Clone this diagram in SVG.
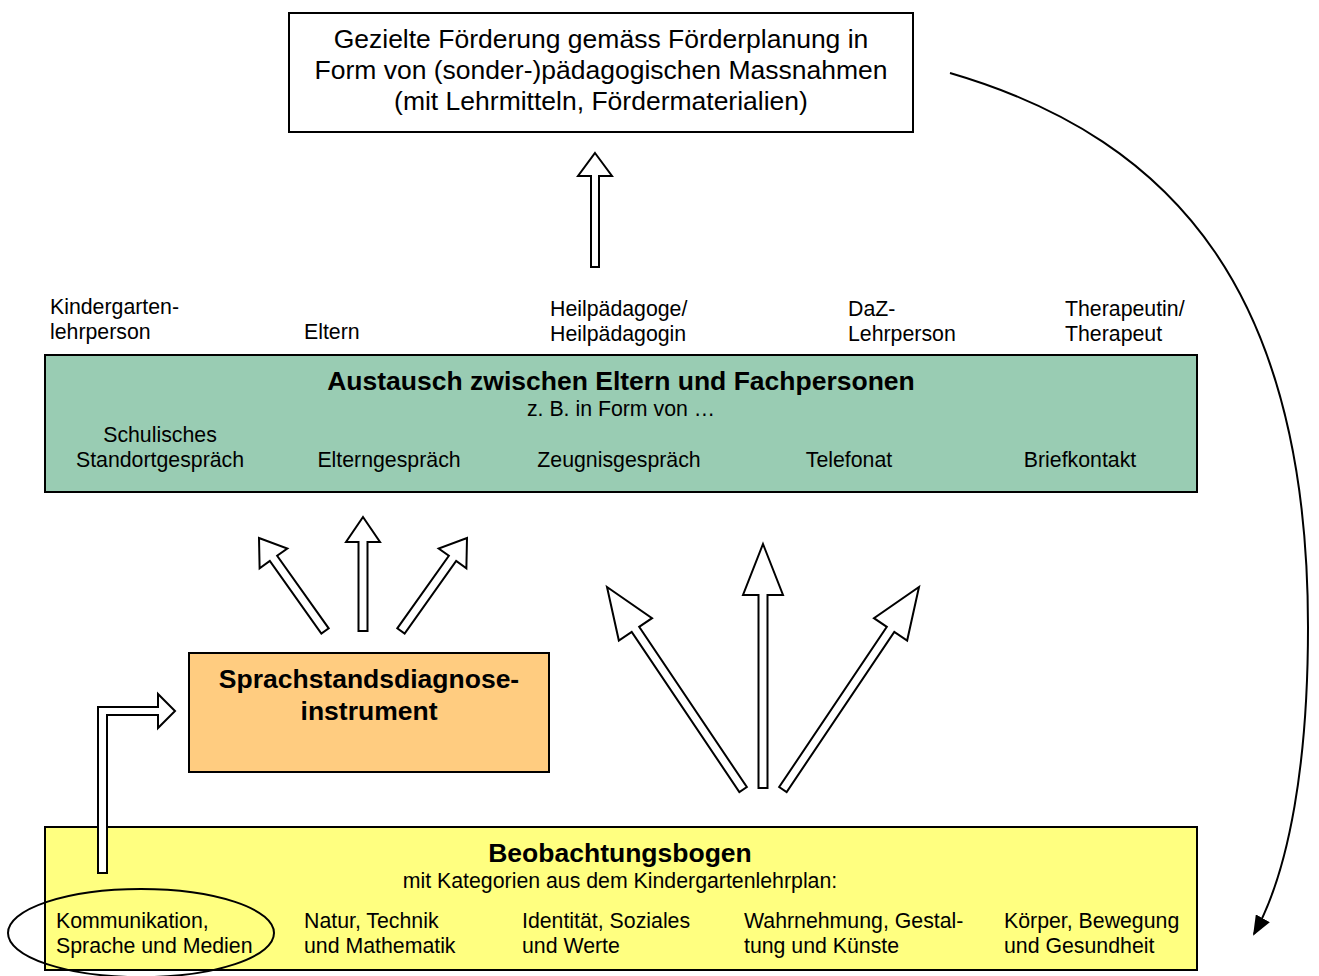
<svg xmlns="http://www.w3.org/2000/svg" width="1319" height="976" viewBox="0 0 1319 976">
<style>
text{font-family:"Liberation Sans",Arial,sans-serif;fill:#000}
.t{font-size:26.5px}
.b{font-size:26.5px;font-weight:bold}
.s{font-size:21.3px}
.box{stroke:#000;stroke-width:2}
.ha{fill:#fff;stroke:#000;stroke-width:2;stroke-linejoin:miter}
.c{text-anchor:middle}
</style>
<defs>
<marker id="ah" viewBox="0 0 10 8" refX="9" refY="4" markerWidth="10" markerHeight="8" orient="auto" markerUnits="strokeWidth">
<path d="M0,0 L10,4 L0,8 z" fill="#000"/>
</marker>
<polygon id="sa" points="0,0 17,25 4.5,25 4.5,114 -4.5,114 -4.5,25 -17,25"/>
<polygon id="ba" points="0,0 20,51 4.5,51 4.5,244 -4.5,244 -4.5,51 -20,51"/>
</defs>

<g id="node-foerderung">
<rect class="box" x="289" y="13" width="624" height="119" fill="#fff"/>
<text class="t c" x="601" y="48">Gezielte Förderung gemäss Förderplanung in</text>
<text class="t c" x="601" y="79">Form von (sonder-)pädagogischen Massnahmen</text>
<text class="t c" x="601" y="110">(mit Lehrmitteln, Fördermaterialien)</text>
</g>

<g id="node-personen">
<text class="s" x="50" y="314">Kindergarten-</text>
<text class="s" x="50" y="339">lehrperson</text>
<text class="s" x="304" y="339">Eltern</text>
<text class="s" x="550" y="316">Heilpädagoge/</text>
<text class="s" x="550" y="341">Heilpädagogin</text>
<text class="s" x="848" y="316">DaZ-</text>
<text class="s" x="848" y="341">Lehrperson</text>
<text class="s" x="1065" y="316">Therapeutin/</text>
<text class="s" x="1065" y="341">Therapeut</text>
</g>

<g id="node-austausch">
<rect class="box" x="45" y="355" width="1152" height="137" fill="#99CCB3"/>
<text class="b c" x="621" y="390">Austausch zwischen Eltern und Fachpersonen</text>
<text class="s c" x="621" y="416">z. B. in Form von …</text>
<text class="s c" x="160" y="442">Schulisches</text>
<text class="s c" x="160" y="467">Standortgespräch</text>
<text class="s c" x="389" y="467">Elterngespräch</text>
<text class="s c" x="619" y="467">Zeugnisgespräch</text>
<text class="s c" x="849" y="467">Telefonat</text>
<text class="s c" x="1080" y="467">Briefkontakt</text>
</g>

<g id="node-sprachstand">
<rect class="box" x="189" y="653" width="360" height="119" fill="#FFCC80"/>
<text class="b c" x="369" y="688">Sprachstandsdiagnose-</text>
<text class="b c" x="369" y="720">instrument</text>
</g>

<g id="node-beobachtung">
<rect class="box" x="45" y="827" width="1152" height="143" fill="#FFFF80"/>
<text class="b c" x="620" y="862">Beobachtungsbogen</text>
<text class="s c" x="620" y="888">mit Kategorien aus dem Kindergartenlehrplan:</text>
<text class="s" x="56" y="928">Kommunikation,</text>
<text class="s" x="56" y="953">Sprache und Medien</text>
<text class="s" x="304" y="928">Natur, Technik</text>
<text class="s" x="304" y="953">und Mathematik</text>
<text class="s" x="522" y="928">Identität, Soziales</text>
<text class="s" x="522" y="953">und Werte</text>
<text class="s" x="744" y="928">Wahrnehmung, Gestal-</text>
<text class="s" x="744" y="953">tung und Künste</text>
<text class="s" x="1004" y="928">Körper, Bewegung</text>
<text class="s" x="1004" y="953">und Gesundheit</text>
<ellipse cx="141" cy="933" rx="133" ry="44" fill="none" stroke="#000" stroke-width="2"/>
</g>

<g id="connectors">
<polygon class="ha" points="595,153 612,176 599,176 599,267 591,267 591,176 578,176"/>
<use href="#sa" class="ha" transform="translate(363,517)"/>
<use href="#sa" class="ha" transform="translate(259,538) rotate(-35.4)"/>
<use href="#sa" class="ha" transform="translate(467,538) rotate(35.4)"/>
<use href="#ba" class="ha" transform="translate(763,544)"/>
<use href="#ba" class="ha" transform="translate(607,587) rotate(-33.9)"/>
<use href="#ba" class="ha" transform="translate(919,587) rotate(33.9)"/>
<polygon class="ha" points="98,873 98,707 158,707 158,694 175,711 158,728 158,715 107,715 107,873"/>
<path d="M950,73 C1180,140 1308,300 1308,627 C1308,760 1290,870 1254,934" fill="none" stroke="#000" stroke-width="2" marker-end="url(#ah)"/>
</g>
</svg>
